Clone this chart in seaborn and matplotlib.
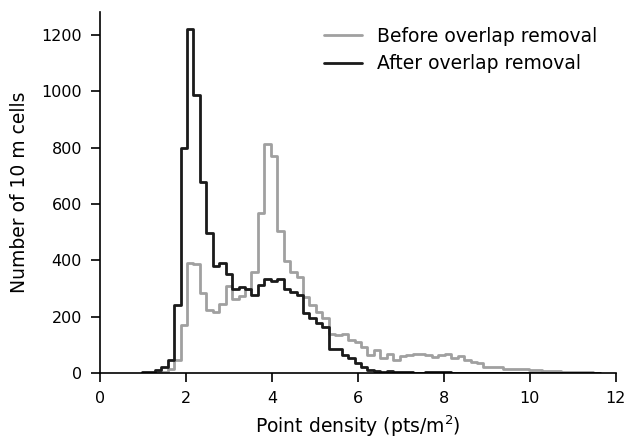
import numpy as np
import pandas as pd
import matplotlib
matplotlib.use("Agg")
import matplotlib.pyplot as plt
import seaborn as sns

# bin edges (pts/m^2)
bin_start = 0.975
bin_width = 0.15
n_bins = 71

before_counts = [0, 2, 3, 5, 16, 46, 169, 389, 387, 283, 222, 216, 246, 308, 264, 273,
                 299, 358, 567, 811, 769, 505, 399, 360, 342, 269, 243, 218, 196, 140,
                 136, 138, 116, 110, 93, 64, 81, 52, 69, 48, 62, 64, 66, 69, 64, 58,
                 64, 68, 54, 61, 46, 38, 34, 22, 21, 21, 16, 13, 16, 13, 11, 10, 8, 7,
                 6, 5, 5, 4, 3, 3, 2]
after_counts = [5, 5, 10, 20, 48, 240, 799, 1220, 985, 677, 497, 381, 391, 352, 299, 305,
                299, 278, 311, 332, 325, 332, 299, 287, 278, 214, 195, 178, 162, 84,
                84, 64, 52, 34, 20, 10, 6, 5, 8, 4, 3, 3, 2, 2, 3, 3, 4, 3, 2, 2, 1,
                1, 1, 1, 0, 0, 0, 0, 0, 0, 0, 0, 0, 0, 0, 0, 0, 0, 0, 0, 0]

edges = [float(v) for v in bin_start + bin_width * np.arange(n_bins + 1)]
centers = [(edges[i] + edges[i + 1]) / 2 for i in range(n_bins)]

df_before = pd.DataFrame({"density": centers, "count": before_counts})
df_after = pd.DataFrame({"density": centers, "count": after_counts})

sns.set_theme(style="ticks")
plt.rcParams['font.family'] = ['DejaVu Sans']
plt.rcParams['text.color'] = 'black'
plt.rcParams['axes.labelcolor'] = 'black'
plt.rcParams['xtick.color'] = 'black'
plt.rcParams['ytick.color'] = 'black'

fig, ax = plt.subplots(figsize=(6.25, 4.41), dpi=100)
fig.subplots_adjust(left=0.16, right=0.985, bottom=0.154, top=0.973)

sns.histplot(data=df_before, x="density", weights="count", bins=edges, element="step",
             fill=False, color="#a0a0a0", linewidth=2, ax=ax, label="Before overlap removal")
sns.histplot(data=df_after, x="density", weights="count", bins=edges, element="step",
             fill=False, color="#1a1a1a", linewidth=2, ax=ax, label="After overlap removal")

ax.set_xlim(0, 12)
ax.set_xticks([0, 2, 4, 6, 8, 10, 12])
ax.set_yticks([0, 200, 400, 600, 800, 1000, 1200])
ax.set_xlabel("Point density (pts/m$^2$)", fontsize=13.5, labelpad=5)
ax.set_ylabel("Number of 10 m cells", fontsize=13.5, labelpad=9)
ax.tick_params(labelsize=11.5, length=6.5, width=1.2, pad=6.5, colors="black")
for s in ["left", "bottom"]:
    ax.spines[s].set_color("black")
    ax.spines[s].set_linewidth(1.2)
sns.despine(ax=ax)
ax.legend(loc="upper right", bbox_to_anchor=(1.0, 1.011), frameon=False, fontsize=13.5,
          handlelength=2.0, handletextpad=0.8, borderaxespad=0.6, labelspacing=0.45)

fig.savefig("out.png", dpi=100)
